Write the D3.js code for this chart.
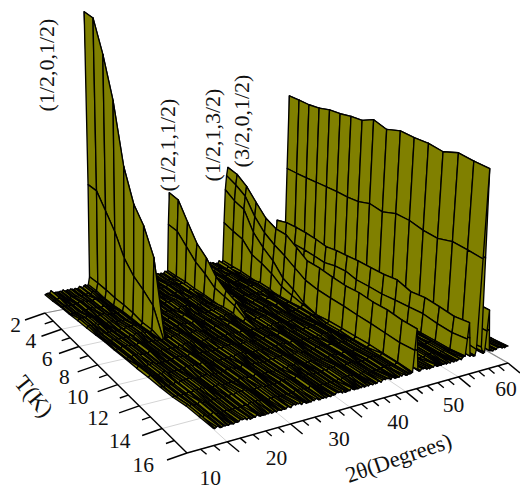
<!DOCTYPE html>
<html><head><meta charset="utf-8">
<script src="https://cdn.jsdelivr.net/npm/d3@7"></script>
<style>html,body{margin:0;background:#fff}svg{display:block}text{font-family:"Liberation Serif",serif;fill:#111}</style>
</head><body><svg id="c" width="520" height="490"></svg>
<script>
// ---- data ----
const tempTicks=[2,4,6,8,10,12,14,16];
const angleTicks=[10,20,30,40,50,60];
const temps=[2,2.82,3.64,4.46,5.28,6.1,6.92,7.74,8.56,9.49,10.42,11.35,12.28,13.21,14.14,15.07,16];
const peakNames=["(1/2,0,1/2)","(1/2,1,1/2)","(1/2,1,3/2)","(3/2,0,1/2)"];
const peak1=[98,98,87,73,51,40,35,26];
const peak2=[27.5,27,22,16.5,13,8.5,6,4,1.5];
const peak3=[25,23,21.5,15.5,12,9.5,6,4,1.5];
const peak4=[33,32.5,30,26.5,23,21.5,21.5,19,17,17,16.5,16,16.5,16,16,15.5,15.5];
const peak5=[11.5,12.5,12.5,12.5,12.5,12,12.5,12.5,12.5,12.5,12.5,13,12,12.5,12.5,12,12];
const peak6=[55.7,56,56,56.8,57.9,58.6,59.6,60,62.5,61.4,63.6,63.6,64.3,63.9,65.7,65.7,66];
const peak7=[15,15,15,15,15,15,15,15,15,15,15,15,15,15,15,15,15];
const peakAngles=[16,30,40.7,41.3,51.6,53.8,55.6];
const peakSeries=[peak1,peak2,peak3,peak4,peak5,peak6,peak7];
const flankLow=[.36,.6,.57,.5,.5,.52,.5];
const floorA=[0,.9,.1,.3,1.3,.2,.5,.1,1.1,.3,0,.7,1.5,.4,.1,.6,.2,1,.1,.4,1.4,.3,0,.8,.2,.5,1.2,.1,.3,.9,.4,0,1.6,.2,.6,.1,.8,.3,1.1,0,.4,.7,.2,1.3,.1,.5,.9,.2,0,1,.3,.6,1.5,.1,.4,.2,.8,0,1.2,.3,.5];
const floorB=[.3,.1,.6,.2,.8,.4,.1,.9,.3,.5,.2,.7,.1,.4,.6,.2,.5];
// ---- geometry ----
const svg=d3.select("#c");
function quad(p){const[[x0,y0],[x1,y1],[x2,y2],[x3,y3]]=p;
 const dx1=x1-x2,dx2=x3-x2,dx3=x0-x1+x2-x3,dy1=y1-y2,dy2=y3-y2,dy3=y0-y1+y2-y3,D=dx1*dy2-dx2*dy1;
 const g=(dx3*dy2-dx2*dy3)/D,h=(dx1*dy3-dx3*dy1)/D,a=x1-x0+g*x1,b=x3-x0+h*x3,d=y1-y0+g*y1,e=y3-y0+h*y3;
 return(u,v)=>{const w=g*u+h*v+1;return[(a*u+b*v+x0)/w,(d*u+e*v+y0)/w]}}
const tScale=d3.scaleLinear().domain([2,16]).range([0,1]);
const floorU=d3.scaleLinear().domain([4,60]).range([0,1]);
const surfU=d3.scaleLinear().domain([8,60]).range([0,1]);
const zScale=d3.scaleLinear().domain([0,100]).range([0,280]);
const floorH=quad([[45,313],[325,258],[508,363],[187,453]]);
const surfH=quad([[45,295],[315,247],[508,347],[213,430]]);
const floorP=(a,t)=>floorH(floorU(a),tScale(t));
function surfP(a,t,z){const[x,y]=surfH(surfU(a),tScale(t));const h=zScale(z);return[x+(x-224)*h/4200,y-h]}
// ---- grid ----
const angles=d3.range(8,60.001,.25);
const Z=angles.map((a,i)=>temps.map((t,j)=>floorA[(i*3+Math.floor(j/2)*7)%floorA.length]*.7+floorB[j]*.25));
peakSeries.forEach((s,p)=>{const c=d3.bisectCenter(angles,peakAngles[p]),m=flankLow[p];
 s.forEach((v,j)=>{[[-2,.03],[-1,m],[0,1],[1,m],[2,.03]].forEach(([o,f])=>{Z[c+o][j]+=v*f})})});
// ---- floor and axes ----
const line=d3.line();
const G=svg.append("g");
tempTicks.forEach(t=>G.append("path").attr("d",line([floorP(4,t),floorP(60,t)])).attr("stroke","#d4d4d4").attr("fill","none"));
angleTicks.forEach(a=>G.append("path").attr("d",line([floorP(a,2),floorP(a,16)])).attr("stroke","#d4d4d4").attr("fill","none"));
G.append("path").attr("d",line([floorP(60,2),floorP(60,16)])).attr("stroke","#8a8a8a").attr("stroke-width",1.2).attr("fill","none");
G.append("path").attr("d",line([floorP(4,2),floorP(60,2)])).attr("stroke","#8a8a8a").attr("fill","none");
const axW=1.4;
G.append("path").attr("d",line([floorP(4,2),floorP(4,16)])).attr("stroke","#000").attr("stroke-width",axW).attr("fill","none");
G.append("path").attr("d",line([floorP(4,16),floorP(60,16)])).attr("stroke","#000").attr("stroke-width",axW).attr("fill","none");
d3.range(2,17).forEach(t=>{const p=floorP(4,t),maj=t%2==0,k=maj?1:.42;
 G.append("path").attr("d",line([p,[p[0]-20*k,p[1]+7*k]])).attr("stroke","#000").attr("stroke-width",axW).attr("fill","none")});
d3.range(6,61,2).forEach(a=>{const p=floorP(a,16),maj=a%10==0,k=maj?1:.5;
 G.append("path").attr("d",line([p,[p[0]+12*k,p[1]+10*k]])).attr("stroke","#000").attr("stroke-width",axW).attr("fill","none")});
tempTicks.forEach(t=>{const p=floorP(4,t),f=(t-2)/14;
 svg.append("text").attr("x",p[0]-24-9*f).attr("y",p[1]+19).attr("text-anchor","end").attr("font-size",21.5).text(t)});
angleTicks.forEach(a=>{const p=floorP(a,16),f=(a-10)/50;
 svg.append("text").attr("x",p[0]-17+15*f).attr("y",p[1]+43-10*f).attr("text-anchor","middle").attr("font-size",21.5).text(a)});
svg.append("text").attr("transform","translate(28,401) rotate(51)").attr("text-anchor","middle").attr("font-size",23).text("T(K)");
svg.append("text").attr("transform","translate(401,465) rotate(-19)").attr("text-anchor","middle").attr("font-size",22.5).text("2θ(Degrees)");
// ---- surface, painted back to front ----
const cells=[];
for(let i=angles.length-2;i>=0;i--)for(let j=0;j<temps.length-1;j++){
 cells.push([surfP(angles[i],temps[j],Z[i][j]),surfP(angles[i+1],temps[j],Z[i+1][j]),surfP(angles[i+1],temps[j+1],Z[i+1][j+1]),surfP(angles[i],temps[j+1],Z[i][j+1])]);}
svg.append("g").selectAll("path").data(cells).join("path")
 .attr("d",d=>line(d)+"Z").attr("fill","#808000").attr("stroke","#000").attr("stroke-width",1.35).attr("stroke-linejoin","round");
// ---- peak labels ----
const labelPos=[[54,65],[175,145],[220,135],[249,121]];
peakNames.forEach((n,i)=>svg.append("text").attr("transform",`translate(${labelPos[i][0]},${labelPos[i][1]}) rotate(-90)`).attr("text-anchor","middle").attr("font-size",22).text(n));
</script></body></html>
